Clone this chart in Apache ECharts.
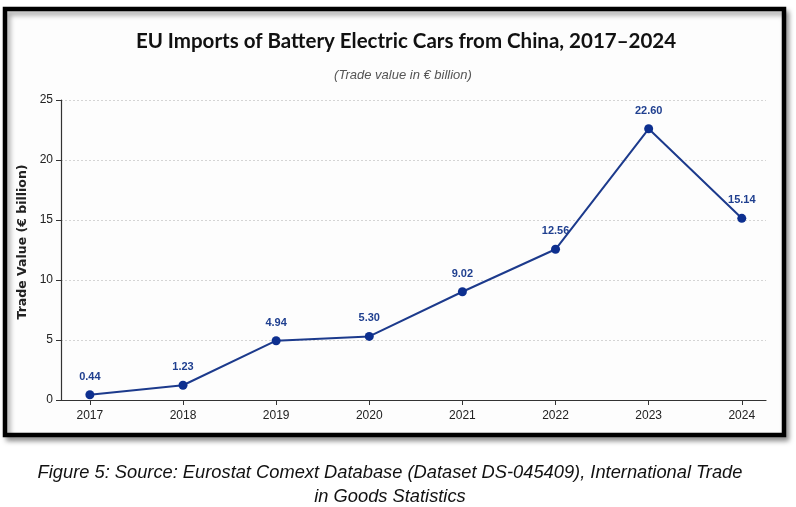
<!DOCTYPE html>
<html>
<head>
<meta charset="utf-8">
<script src="https://cdn.jsdelivr.net/npm/echarts@6/dist/echarts.min.js"></script>
<style>
  html, body { margin: 0; padding: 0; background: #ffffff; }
  #chart { width: 796px; height: 507px; }
</style>
</head>
<body>
<div id="chart"></div>
<script>
var years = [2017, 2018, 2019, 2020, 2021, 2022, 2023, 2024];
var tradeValues = [0.44, 1.23, 4.94, 5.30, 9.02, 12.56, 22.60, 15.14];
var yTicks = [0, 5, 10, 15, 20, 25];

var chart = echarts.init(document.getElementById('chart'));

var sans = '"Liberation Sans", Arial, sans-serif';

var option = {
    backgroundColor: '#ffffff',
    animation: false,
    title: [
        {
            text: 'EU Imports of Battery Electric Cars from China, 2017\u20132024',
            left: 401,
            top: 26,
            textAlign: 'center',
            textStyle: {
                fontFamily: 'Lato, sans-serif',
                fontWeight: 'bold',
                fontSize: 20.5,
                color: '#111111'
            }
        },
        {
            text: '(Trade value in \u20ac billion)',
            left: 398,
            top: 64,
            textAlign: 'center',
            textStyle: {
                fontFamily: sans,
                fontStyle: 'italic',
                fontWeight: 'normal',
                fontSize: 13,
                color: '#555555'
            }
        },
        {
            text: 'Figure 5: Source: Eurostat Comext Database (Dataset DS-045409), International Trade\nin Goods Statistics',
            left: 385,
            top: 456,
            textAlign: 'center',
            textStyle: {
                fontFamily: sans,
                fontStyle: 'italic',
                fontWeight: 'normal',
                fontSize: 18.3,
                lineHeight: 24,
                color: '#111111'
            }
        }
    ],
    graphic: [
        {
            type: 'rect',
            z: -10,
            silent: true,
            shape: { x: 5, y: 9, width: 779, height: 426 },
            style: {
                fill: '#fdfdfd',
                stroke: '#000000',
                lineWidth: 4.5,
                shadowBlur: 5,
                shadowOffsetX: 3,
                shadowOffsetY: 4,
                shadowColor: 'rgba(0,0,0,0.35)'
            }
        }
    ],
    grid: {
        left: 61,
        right: 30,
        top: 100,
        bottom: 107,
        containLabel: false
    },
    xAxis: {
        type: 'value',
        min: 2016.69,
        max: 2024.26,
        axisLine: { show: true, onZero: false, lineStyle: { color: '#333333', width: 1.2 } },
        axisTick: {
            show: true,
            customValues: years,
            length: 5,
            lineStyle: { color: '#333333' }
        },
        axisLabel: {
            customValues: years,
            margin: 10,
            fontFamily: sans,
            fontSize: 12,
            color: '#222222',
            formatter: function (v) { return String(v); }
        },
        splitLine: { show: false }
    },
    yAxis: {
        type: 'value',
        min: yTicks[0],
        max: yTicks[yTicks.length - 1],
        interval: 5,
        name: 'Trade Value (\u20ac billion)',
        nameLocation: 'middle',
        nameGap: 30,
        nameTextStyle: {
            fontFamily: '"DejaVu Sans", sans-serif',
            fontWeight: 'bold',
            fontSize: 12.5,
            color: '#222222',
            padding: [0, 0, 0, 16]
        },
        axisLine: { show: true, lineStyle: { color: '#333333', width: 1.2 } },
        axisTick: { show: true, length: 5, lineStyle: { color: '#333333' } },
        axisLabel: {
            margin: 8,
            fontFamily: sans,
            fontSize: 12,
            color: '#222222'
        },
        splitLine: {
            show: true,
            lineStyle: { color: '#d4d4d4', type: [2, 2], width: 1 }
        }
    },
    series: [
        {
            type: 'line',
            data: years.map(function (y, i) { return [y, tradeValues[i]]; }),
            symbol: 'circle',
            symbolSize: 9,
            lineStyle: { color: '#1c3a8c', width: 2 },
            itemStyle: { color: '#0d2f8f' },
            label: {
                show: true,
                position: 'top',
                distance: 8,
                fontFamily: sans,
                fontWeight: 'bold',
                fontSize: 11,
                color: '#1f3f8f',
                formatter: function (p) { return p.value[1].toFixed(2); }
            }
        }
    ]
};

chart.setOption(option);

window.onresize = chart.resize;
</script>
</body>
</html>
